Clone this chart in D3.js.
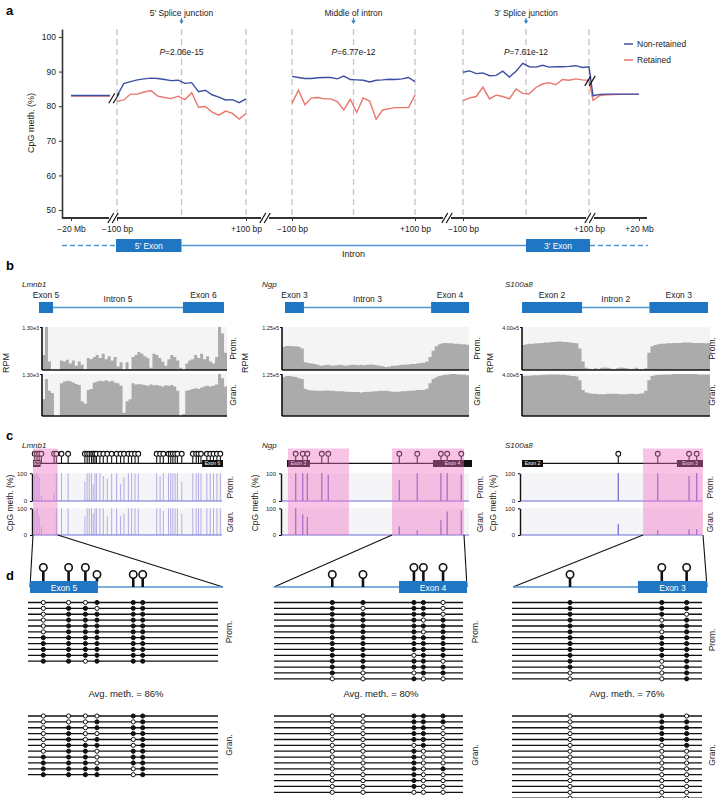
<!DOCTYPE html>
<html>
<head>
<meta charset="utf-8">
<script src="https://cdn.jsdelivr.net/npm/d3@7"></script>
<style>
body{margin:0;background:#fff;}
svg{font-family:"Liberation Sans",Arial,sans-serif;}
</style>
</head>
<body>
<div id="fig"></div>
<script>
// ---------- panel a data ----------
const yTicks = [50, 60, 70, 80, 90, 100];
const binIdx = [1,2,3,4,5,6,7,8,9,10,11,12,13,14,15,16,17,18,19,20];
const nonRet5 = [83.0,86.5,87.1,87.6,87.9,88.1,88.0,87.7,87.4,87.5,86.6,86.8,84.2,84.6,83.3,82.6,81.8,81.9,81.0,82.1];
const ret5    = [81.4,81.8,83.5,83.5,84.1,84.5,82.9,82.5,82.2,82.9,81.9,83.9,79.7,79.9,78.3,77.4,78.6,77.9,76.3,77.9];
const nonRetMid = [88.6,88.3,88.0,88.0,88.2,88.3,88.3,87.9,88.7,87.7,87.6,87.5,87.0,87.5,87.6,87.8,87.7,87.9,88.3,87.1];
const retMid    = [80.8,84.6,80.4,82.4,82.5,82.1,82.1,81.3,78.9,82.0,78.2,82.4,81.5,76.2,78.9,79.3,79.6,79.6,79.6,83.2];
const nonRet3 = [89.8,90.2,89.4,89.6,88.8,88.9,90.1,88.4,90.1,92.4,91.4,91.3,91.8,91.3,91.4,91.4,91.5,91.7,91.2,91.4];
const ret3    = [81.6,82.4,82.8,85.5,82.1,83.2,82.8,82.1,85.0,83.7,83.6,85.4,86.4,86.8,86.2,87.7,87.5,87.9,87.6,87.5];
const farLeftPos = [0, 1];
const farLeftNon = [83.1, 83.1];
const farLeftRet = [82.9, 82.9];
const farRightPos = [0, 0.15, 0.3, 0.6, 1];
const farRightNon = [83.0, 83.4, 83.5, 83.5, 83.5];
const farRightRet = [81.7, 83.1, 83.3, 83.4, 83.4];
const xTickLabels = ["\u221220 Mb", "\u2212100 bp", "+100 bp", "+20 Mb"];
const junctionLabels = ["5\u2032 Splice junction", "Middle of intron", "3\u2032 Splice junction"];
const pValues = ["=2.06e-15", "=6.77e-12", "=7.61e-12"];
const seriesNames = ["Non-retained", "Retained"];

// ---------- panel b data (coverage, % of track max) ----------
const lmnb1PromCov = [35,100,20,0,0,0,22,20,24,15,22,10,20,12,2,28,25,30,35,28,38,25,32,22,30,8,18,0,18,2,30,35,42,38,32,28,5,38,35,28,20,10,25,35,30,22,5,0,15,22,25,35,28,38,25,32,20,15,30,100,85,40];
const lmnb1GranCov = [40,88,60,55,0,0,78,82,84,83,80,76,74,35,30,62,64,80,82,84,83,85,82,84,80,78,72,8,35,40,78,75,76,75,74,72,75,73,74,72,70,73,72,74,70,60,0,5,60,62,64,66,65,68,70,72,70,72,75,100,90,70];
const ngpPromCov = [54,56,56,55,55,54,50,18,16,15,14,12,10,11,12,11,10,11,12,11,10,11,12,12,11,12,11,12,13,12,11,10,9,7,8,10,10,11,12,12,13,14,14,15,16,17,20,30,45,55,60,62,63,62,62,61,61,60,60,59];
const ngpGranCov = [92,95,95,94,93,90,88,65,62,61,61,60,60,60,61,60,60,59,59,59,58,58,57,57,57,56,57,58,58,59,59,60,60,60,59,58,58,58,59,59,60,60,61,62,62,62,65,78,88,92,95,97,98,99,100,100,99,99,98,97];
const s100PromCov = [58,60,61,61,62,62,63,64,64,65,65,66,66,65,65,64,63,62,50,20,5,3,2,4,2,5,6,5,3,2,4,6,5,4,2,3,5,2,1,4,40,55,58,60,61,61,62,62,63,63,63,64,64,64,63,63,63,63,62,62];
const s100GranCov = [95,96,96,97,97,97,98,98,99,99,99,99,98,98,97,96,95,94,85,62,56,54,53,53,52,52,52,53,53,53,53,52,52,52,53,53,52,53,54,60,85,95,97,98,98,99,99,99,100,100,100,100,100,100,100,100,99,99,99,99];
const covMaxLabels = ["1.30e3", "1.25e5", "4.00e5"];

// ---------- panel c data (CpG positions 0-1000 along region, meth %) ----------
const lmnb1Cpg = [9,21,32,44,111,123,150,185,273,285,296,308,317,326,334,352,370,391,414,440,461,479,502,519,537,554,651,669,686,713,725,736,748,760,783,841,859,871,884,915,933,950,968,986];
const lmnb1PromMeth = [95,100,85,20,30,100,100,100,70,100,100,100,60,100,100,100,90,80,100,100,60,85,100,100,100,100,100,90,100,100,100,100,100,100,70,100,100,100,100,100,100,100,100,100];
const lmnb1GranMeth = [90,100,70,30,0,100,100,100,70,100,100,100,80,100,100,100,100,70,100,100,70,80,100,100,100,100,100,100,90,100,100,100,100,100,80,100,100,100,100,100,100,100,100,100];
const ngpCpg = [47,85,110,188,223,607,704,832,866,942];
const ngpPromMeth = [100,100,100,100,95,75,100,100,100,95];
const ngpGranMeth = [100,78,68,0,0,32,18,55,88,92];
const s100Cpg = [532,750,923,965];
const s100PromMeth = [100,100,90,100];
const s100GranMeth = [40,18,22,22];

// ---------- panel d data (bisulfite reads; 1 = methylated) ----------
const lmnb1ReadCpg = [69,200,287,347,535,584];
const lmnb1PromReads = ["000111","011011","011111","011111","011111","011111","111111","111111","111111","111111","110111"];
const lmnb1GranReads = ["000011","000101","010111","010011","010101","011101","011011","111011","111011","111101","111101"];
const ngpReadCpg = [302,461,725,774,876];
const ngpPromReads = ["11110","10110","11110","11101","11111","11101","11111","11111","11111","11011","11110","11111","10011","00100"];
const ngpGranReads = ["00111","00111","00110","00110","00110","00010","00100","00100","00100","00101","00100","00100","00100","00000"];
const s100ReadCpg = [294,767,895];
const s100PromReads = ["111","111","110","101","111","101","111","111","111","111","101","101","001","001"];
const s100GranReads = ["010","011","011","011","011","001","000","000","000","000","000","000","000","000","000"];
const avgMeth = ["Avg. meth. = 86%", "Avg. meth. = 80%", "Avg. meth. = 76%"];

// ---------- setup ----------
const W = 717, H = 798;
const svg = d3.select("#fig").append("svg").attr("width", W).attr("height", H);
const BLUE = "#3d4fa3", RED = "#ea766c", EXON = "#1f76c2", INTRON = "#4f95d2";
const TXT = "#222";

function panelLabel(t, x, y){
  svg.append("text").attr("x", x).attr("y", y).attr("font-size", 13).attr("font-weight", "bold").text(t);
}
function vText(g, t, x, y, size){
  g.append("text").attr("transform", `translate(${x},${y}) rotate(-90)`)
    .attr("text-anchor", "middle").attr("dominant-baseline", "central")
    .attr("font-size", size).attr("fill", TXT).text(t);
}
function slash(g, cx, cy, cut){
  if (cut) g.append("rect").attr("x", cx-4).attr("y", cy-5).attr("width", 8).attr("height", 10).attr("fill", "#fff");
  [-2.2, 2.2].forEach(o => g.append("line")
    .attr("x1", cx+o-3).attr("y1", cy+5).attr("x2", cx+o+3).attr("y2", cy-5)
    .attr("stroke", "#111").attr("stroke-width", 1.2));
}

// ================= panel a =================
panelLabel("a", 6, 15);
const ga = svg.append("g");
const y = d3.scaleLinear().domain([47.7, 102.3]).range([218, 29]);
const farL = d3.scaleLinear().domain([0, 1]).range([71, 110]);
const s5 = d3.scaleLinear().domain([1, 20]).range([117, 246]);
const sMid = d3.scaleLinear().domain([1, 20]).range([292, 415]);
const s3 = d3.scaleLinear().domain([1, 20]).range([463, 589]);
const farR = d3.scaleLinear().domain([0, 1]).range([593, 639]);
const windows = [s5, sMid, s3];

// dashed guides
windows.forEach(sc => [1, 10.5, 20].forEach(v => {
  ga.append("line").attr("x1", sc(v)).attr("x2", sc(v)).attr("y1", 29).attr("y2", 218)
    .attr("stroke", "#c4c4c4").attr("stroke-width", 1.3).attr("stroke-dasharray", "6,4");
}));

// junction labels and P values
windows.forEach((sc, i) => {
  const cx = sc(10.5);
  ga.append("text").attr("x", cx).attr("y", 16).attr("text-anchor", "middle").attr("font-size", 8.5).attr("fill", TXT).text(junctionLabels[i]);
  ga.append("path").attr("d", `M${cx},18 L${cx},21`).attr("stroke", "#2f7fc1").attr("stroke-width", 1.2);
  ga.append("path").attr("d", `M${cx-2.2},20.5 L${cx+2.2},20.5 L${cx},24 Z`).attr("fill", "#2f7fc1");
  const t = ga.append("text").attr("x", cx).attr("y", 55).attr("text-anchor", "middle").attr("font-size", 8.5).attr("fill", TXT);
  t.append("tspan").attr("font-style", "italic").text("P");
  t.append("tspan").text(pValues[i]);
});

// axes
const yAx = ga.append("g").attr("transform", "translate(62,0)")
  .call(d3.axisLeft(y).tickValues(yTicks).tickSize(3).tickSizeOuter(0));
yAx.select(".domain").attr("stroke", "#333").attr("stroke-width", 1.6);
yAx.selectAll(".tick line").attr("stroke", "#333");
yAx.selectAll("text").attr("font-size", 8.5).attr("fill", TXT).attr("font-family", "Liberation Sans, Arial");
ga.append("line").attr("x1", 62).attr("x2", 647).attr("y1", 218).attr("y2", 218).attr("stroke", "#333").attr("stroke-width", 1.8);
vText(ga, "CpG meth. (%)", 31, 123, 9);

const xTickDefs = [[farL, [0], [xTickLabels[0]]], [s5, [1, 20], [xTickLabels[1], xTickLabels[2]]],
  [sMid, [1, 20], [xTickLabels[1], xTickLabels[2]]], [s3, [1, 20], [xTickLabels[1], xTickLabels[2]]],
  [farR, [1], [xTickLabels[3]]]];
xTickDefs.forEach(([sc, vals, labs]) => {
  const ax = ga.append("g").attr("transform", "translate(0,218)")
    .call(d3.axisBottom(sc).tickValues(vals).tickFormat((d, i) => labs[i]).tickSize(3));
  ax.select(".domain").remove();
  ax.selectAll(".tick line").attr("stroke", "#333");
  ax.selectAll("text").attr("font-size", 8.5).attr("fill", TXT).attr("font-family", "Liberation Sans, Arial").attr("dy", "0.9em");
});
[113, 265, 447, 590].forEach(cx => slash(ga, cx, 218, true));

// lines
const line = d3.line().x(d => d[0]).y(d => y(d[1]));
const pts = (sc, xs, vs) => xs.map((v, i) => [sc(v), vs[i]]);
const seriesParts = [
  {color: RED, parts: [pts(farL, farLeftPos, farLeftRet), pts(s5, binIdx, ret5), pts(sMid, binIdx, retMid),
    pts(s3, binIdx, ret3).concat(pts(farR, farRightPos, farRightRet))]},
  {color: BLUE, parts: [pts(farL, farLeftPos, farLeftNon), pts(s5, binIdx, nonRet5), pts(sMid, binIdx, nonRetMid),
    pts(s3, binIdx, nonRet3).concat(pts(farR, farRightPos, farRightNon))]}
];
seriesParts.forEach(s => s.parts.forEach(p => ga.append("path").attr("d", line(p))
  .attr("fill", "none").attr("stroke", s.color).attr("stroke-width", 1.4)));
slash(ga, 114, y(82.3), false);
slash(ga, 590, y(87.3), false);

// legend
[BLUE, RED].forEach((c, i) => {
  const ly = 44 + i * 16;
  ga.append("line").attr("x1", 624).attr("x2", 633).attr("y1", ly).attr("y2", ly).attr("stroke", c).attr("stroke-width", 1.5);
  ga.append("text").attr("x", 637).attr("y", ly + 3).attr("font-size", 8.5).attr("fill", TXT).text(seriesNames[i]);
});

// gene model under axis
const gmY = 245.5;
ga.append("line").attr("x1", 62).attr("x2", 116).attr("y1", gmY).attr("y2", gmY).attr("stroke", INTRON).attr("stroke-width", 1.3).attr("stroke-dasharray", "5,3");
ga.append("line").attr("x1", 590).attr("x2", 648).attr("y1", gmY).attr("y2", gmY).attr("stroke", INTRON).attr("stroke-width", 1.3).attr("stroke-dasharray", "5,3");
ga.append("line").attr("x1", s5(10.5)).attr("x2", s3(10.5)).attr("y1", gmY).attr("y2", gmY).attr("stroke", INTRON).attr("stroke-width", 1.3);
[[116, s5(10.5), "5\u2032 Exon"], [s3(10.5), 590, "3\u2032 Exon"]].forEach(([a, b, t]) => {
  ga.append("rect").attr("x", a).attr("y", 239).attr("width", b - a).attr("height", 13).attr("fill", EXON);
  ga.append("text").attr("x", (a + b) / 2).attr("y", 248.5).attr("text-anchor", "middle").attr("font-size", 8.5).attr("fill", "#fff").text(t);
});
ga.append("text").attr("x", sMid(10.5)).attr("y", 257).attr("text-anchor", "middle").attr("font-size", 9).attr("fill", TXT).text("Intron");

// ================= panel b =================
panelLabel("b", 6, 270);
const covPanels = [
  {gene: "Lmnb1", titleX: 22, span: [39, 224], exons: [["Exon 5", 0, 76], ["Exon 6", 778, 1000]], intron: "Intron 5",
   x0: 42, x1: 227, prom: lmnb1PromCov, gran: lmnb1GranCov, max: covMaxLabels[0], labX: 233, rpmX: 6},
  {gene: "Ngp", titleX: 262, span: [285, 469], exons: [["Exon 3", 0, 103], ["Exon 4", 794, 1000]], intron: "Intron 3",
   x0: 282, x1: 469, prom: ngpPromCov, gran: ngpGranCov, max: covMaxLabels[1], labX: 477, rpmX: 245},
  {gene: "S100a8", titleX: 505, span: [522, 708], exons: [["Exon 2", 0, 323], ["Exon 3", 685, 1000]], intron: "Intron 2",
   x0: 522, x1: 710, prom: s100PromCov, gran: s100GranCov, max: covMaxLabels[2], labX: 711.5, rpmX: 490}
];
covPanels.forEach(p => {
  const g = svg.append("g");
  const gx = d3.scaleLinear().domain([0, 1000]).range(p.span);
  g.append("text").attr("x", p.titleX).attr("y", 287).attr("font-size", 8).attr("font-style", "italic").attr("fill", TXT).text(p.gene);
  g.append("line").attr("x1", gx(p.exons[0][2])).attr("x2", gx(p.exons[1][1])).attr("y1", 307.5).attr("y2", 307.5).attr("stroke", INTRON).attr("stroke-width", 1.3);
  p.exons.forEach(([t, a, b]) => {
    g.append("rect").attr("x", gx(a)).attr("y", 302).attr("width", gx(b) - gx(a)).attr("height", 11).attr("fill", EXON);
    g.append("text").attr("x", (gx(a) + gx(b)) / 2).attr("y", 298).attr("text-anchor", "middle").attr("font-size", 8.5).attr("fill", TXT).text(t);
  });
  g.append("text").attr("x", (gx(p.exons[0][2]) + gx(p.exons[1][1])) / 2).attr("y", 302).attr("text-anchor", "middle").attr("font-size", 8.5).attr("fill", TXT).text(p.intron);

  [[p.prom, 327, 370, "Prom."], [p.gran, 374, 416, "Gran."]].forEach(([vals, top, base, name]) => {
    const bx = d3.scaleLinear().domain([0, vals.length]).range([p.x0, p.x1]);
    const by = d3.scaleLinear().domain([0, 100]).range([base, top]);
    g.append("rect").attr("x", p.x0).attr("y", top).attr("width", p.x1 - p.x0).attr("height", base - top).attr("fill", "#f4f4f4");
    const dat = vals.map((v, i) => [i, v]).concat([[vals.length, vals[vals.length - 1]]]);
    g.append("path").attr("d", d3.area().curve(d3.curveStepAfter).x(d => bx(d[0])).y0(by(0)).y1(d => by(d[1]))(dat))
      .attr("fill", "#ababab");
    g.append("line").attr("x1", p.x0).attr("x2", p.x1).attr("y1", base).attr("y2", base).attr("stroke", "#111").attr("stroke-width", 1.6);
    g.append("line").attr("x1", p.x0).attr("x2", p.x0).attr("y1", top).attr("y2", base).attr("stroke", "#111").attr("stroke-width", 1.6);
    g.append("line").attr("x1", p.x0 - 2).attr("x2", p.x0).attr("y1", top + 0.5).attr("y2", top + 0.5).attr("stroke", "#111").attr("stroke-width", 1);
    g.append("text").attr("x", p.x0 - 3).attr("y", top + 2.5).attr("text-anchor", "end").attr("font-size", 5.5).attr("fill", TXT).text(p.max);
    vText(g, name, p.labX, (top + base) / 2, 8.5);
  });
  vText(g, "RPM", p.rpmX, 363, 9);
});

// ================= panel c =================
panelLabel("c", 6, 440);
const methPanels = [
  {gene: "Lmnb1", titleX: 22, span: [33, 223], axisX: 32, endX: 222, cpg: lmnb1Cpg, prom: lmnb1PromMeth, gran: lmnb1GranMeth,
   exons: [["E5", 0, 40], ["Exon 6", 890, 1000]], pink: [[0, 130]], labX: 230, ylabX: 10, barW: 0.9, barOp: 0.5},
  {gene: "Ngp", titleX: 262, span: [287, 472], axisX: 281, endX: 469, cpg: ngpCpg, prom: ngpPromMeth, gran: ngpGranMeth,
   exons: [["Exon 3", 0, 124], ["Exon 4", 789, 1000]], pink: [[5, 335], [568, 957]], labX: 480, ylabX: 255, barW: 1.3, barOp: 0.85},
  {gene: "S100a8", titleX: 505, span: [522, 703], axisX: 520, endX: 702, cpg: s100Cpg, prom: s100PromMeth, gran: s100GranMeth,
   exons: [["Exon 2", 0, 116], ["Exon 3", 856, 1000]], pink: [[669, 1000]], labX: 710, ylabX: 493, barW: 1.3, barOp: 0.85}
];
methPanels.forEach(p => {
  const g = svg.append("g");
  const x = d3.scaleLinear().domain([0, 1000]).range(p.span);
  // lollipop track
  g.append("line").attr("x1", x(0)).attr("x2", x(1000)).attr("y1", 463.3).attr("y2", 463.3).attr("stroke", "#111").attr("stroke-width", 1.2);
  g.selectAll(null).data(p.cpg).join("line").attr("x1", d => x(d)).attr("x2", d => x(d)).attr("y1", 456).attr("y2", 463)
    .attr("stroke", "#111").attr("stroke-width", 1.1);
  g.selectAll(null).data(p.cpg).join("circle").attr("cx", d => x(d)).attr("cy", 453.8).attr("r", 2.4)
    .attr("fill", "#fff").attr("stroke", "#111").attr("stroke-width", 1.1);
  p.exons.forEach(([t, a, b]) => {
    g.append("rect").attr("x", x(a)).attr("y", 460).attr("width", x(b) - x(a)).attr("height", 7).attr("fill", "#111");
    g.append("text").attr("x", (x(a) + x(b)) / 2).attr("y", 465.3).attr("text-anchor", "middle").attr("font-size", 5).attr("fill", "#fff").text(t);
  });
  [[p.prom, 473.3, 501, "Prom."], [p.gran, 508.3, 535, "Gran."]].forEach(([vals, top, base, name]) => {
    const yy = d3.scaleLinear().domain([0, 100]).range([base, top]);
    g.append("rect").attr("x", p.axisX).attr("y", top).attr("width", p.endX - p.axisX).attr("height", base - top).attr("fill", "#f5f5f8");
    g.selectAll(null).data(p.cpg).join("line").attr("x1", d => x(d)).attr("x2", d => x(d))
      .attr("y1", yy(0)).attr("y2", (d, i) => yy(vals[i]))
      .attr("stroke", "#6455cf").attr("stroke-width", p.barW).attr("opacity", p.barOp);
    g.append("line").attr("x1", p.axisX).attr("x2", p.endX).attr("y1", base).attr("y2", base).attr("stroke", "#6f6fd8").attr("stroke-width", 1.2);
    const ax = g.append("g").attr("transform", `translate(${p.axisX},0)`)
      .call(d3.axisLeft(yy).tickValues([0, 100]).tickSize(2).tickSizeOuter(0));
    ax.select(".domain").attr("stroke", "#111").attr("stroke-width", 1.4);
    ax.selectAll("text").attr("font-size", 6).attr("fill", TXT).attr("font-family", "Liberation Sans, Arial");
    vText(g, name, p.labX, (top + base) / 2, 8.5);
  });
  vText(g, "CpG meth. (%)", p.ylabX, 503, 8.5);
  p.pink.forEach(([a, b]) => g.append("rect").attr("x", x(a)).attr("y", 448.5).attr("width", x(b) - x(a)).attr("height", 86.5)
    .attr("fill", "#ee6fc0").attr("opacity", 0.42));
  g.append("text").attr("x", p.titleX).attr("y", 447.5).attr("font-size", 8).attr("font-style", "italic").attr("fill", TXT).text(p.gene);
});

// ================= panel d =================
panelLabel("d", 6, 580);
const readPanels = [
  {span: [30, 223], from: [33, 57.7], readX: [28, 218], cpg: lmnb1ReadCpg, levels: [1, 1, 1, 0, 0, 0], exon: ["Exon 5", 0, 352],
   prom: lmnb1PromReads, gran: lmnb1GranReads, avg: avgMeth[0], avgX: 126, labX: 229, promLabY: 632, granLabY: 745},
  {span: [274, 467], from: [392, 464], readX: [274, 463], cpg: ngpReadCpg, levels: [0, 0, 1, 1, 1], exon: ["Exon 4", 648, 1000],
   prom: ngpPromReads, gran: ngpGranReads, avg: avgMeth[1], avgX: 381, labX: 475, promLabY: 632, granLabY: 755},
  {span: [513, 707], from: [643, 703], readX: [512, 702], cpg: s100ReadCpg, levels: [0, 1, 1], exon: ["Exon 3", 644, 1000],
   prom: s100PromReads, gran: s100GranReads, avg: avgMeth[2], avgX: 627, labX: 711.5, promLabY: 640, granLabY: 755}
];
readPanels.forEach(p => {
  const g = svg.append("g");
  const x = d3.scaleLinear().domain([0, 1000]).range(p.span);
  const [et, ea, eb] = p.exon;
  // zoom connectors
  g.append("line").attr("x1", p.from[0]).attr("y1", 535).attr("x2", x(0)).attr("y2", 587).attr("stroke", "#111").attr("stroke-width", 1.1);
  g.append("line").attr("x1", p.from[1]).attr("y1", 535).attr("x2", x(1000)).attr("y2", 587).attr("stroke", "#111").attr("stroke-width", 1.1);
  g.append("line").attr("x1", x(0)).attr("x2", x(1000)).attr("y1", 587).attr("y2", 587).attr("stroke", INTRON).attr("stroke-width", 1.4);
  // lollipops: stems stop at the exon box top, or reach the line in the intron
  p.cpg.forEach((c, i) => {
    const cy = p.levels[i] ? 567.5 : 574.5;
    const inExon = c >= ea && c <= eb;
    g.append("line").attr("x1", x(c)).attr("x2", x(c)).attr("y1", cy + 3).attr("y2", inExon ? 582 : 587)
      .attr("stroke", "#111").attr("stroke-width", 2.6);
    g.append("circle").attr("cx", x(c)).attr("cy", cy).attr("r", 3.7).attr("fill", "#fff").attr("stroke", "#111").attr("stroke-width", 1.6);
  });
  g.append("rect").attr("x", x(ea)).attr("y", 581).attr("width", x(eb) - x(ea)).attr("height", 12).attr("fill", EXON);
  g.append("text").attr("x", (x(ea) + x(eb)) / 2).attr("y", 590.5).attr("text-anchor", "middle").attr("font-size", 8.5).attr("fill", "#fff").text(et);
  // read blocks
  [[p.prom, 602.5, "Prom.", p.promLabY], [p.gran, 716, "Gran.", p.granLabY]].forEach(([rows, y0, name, ly]) => {
    const ry = d3.scaleLinear().domain([0, 1]).range([y0, y0 + 5.87]);
    rows.forEach((r, ri) => {
      g.append("line").attr("x1", p.readX[0]).attr("x2", p.readX[1]).attr("y1", ry(ri)).attr("y2", ry(ri)).attr("stroke", "#111").attr("stroke-width", 1.3);
      r.split("").forEach((m, ci) => g.append("circle").attr("cx", x(p.cpg[ci])).attr("cy", ry(ri)).attr("r", 2.1)
        .attr("fill", m === "1" ? "#111" : "#fff").attr("stroke", "#111").attr("stroke-width", 1));
    });
    vText(g, name, p.labX, ly, 8.5);
  });
  g.append("text").attr("x", p.avgX).attr("y", 697).attr("text-anchor", "middle").attr("font-size", 9.5).attr("fill", TXT).text(p.avg);
});
</script>
</body>
</html>
